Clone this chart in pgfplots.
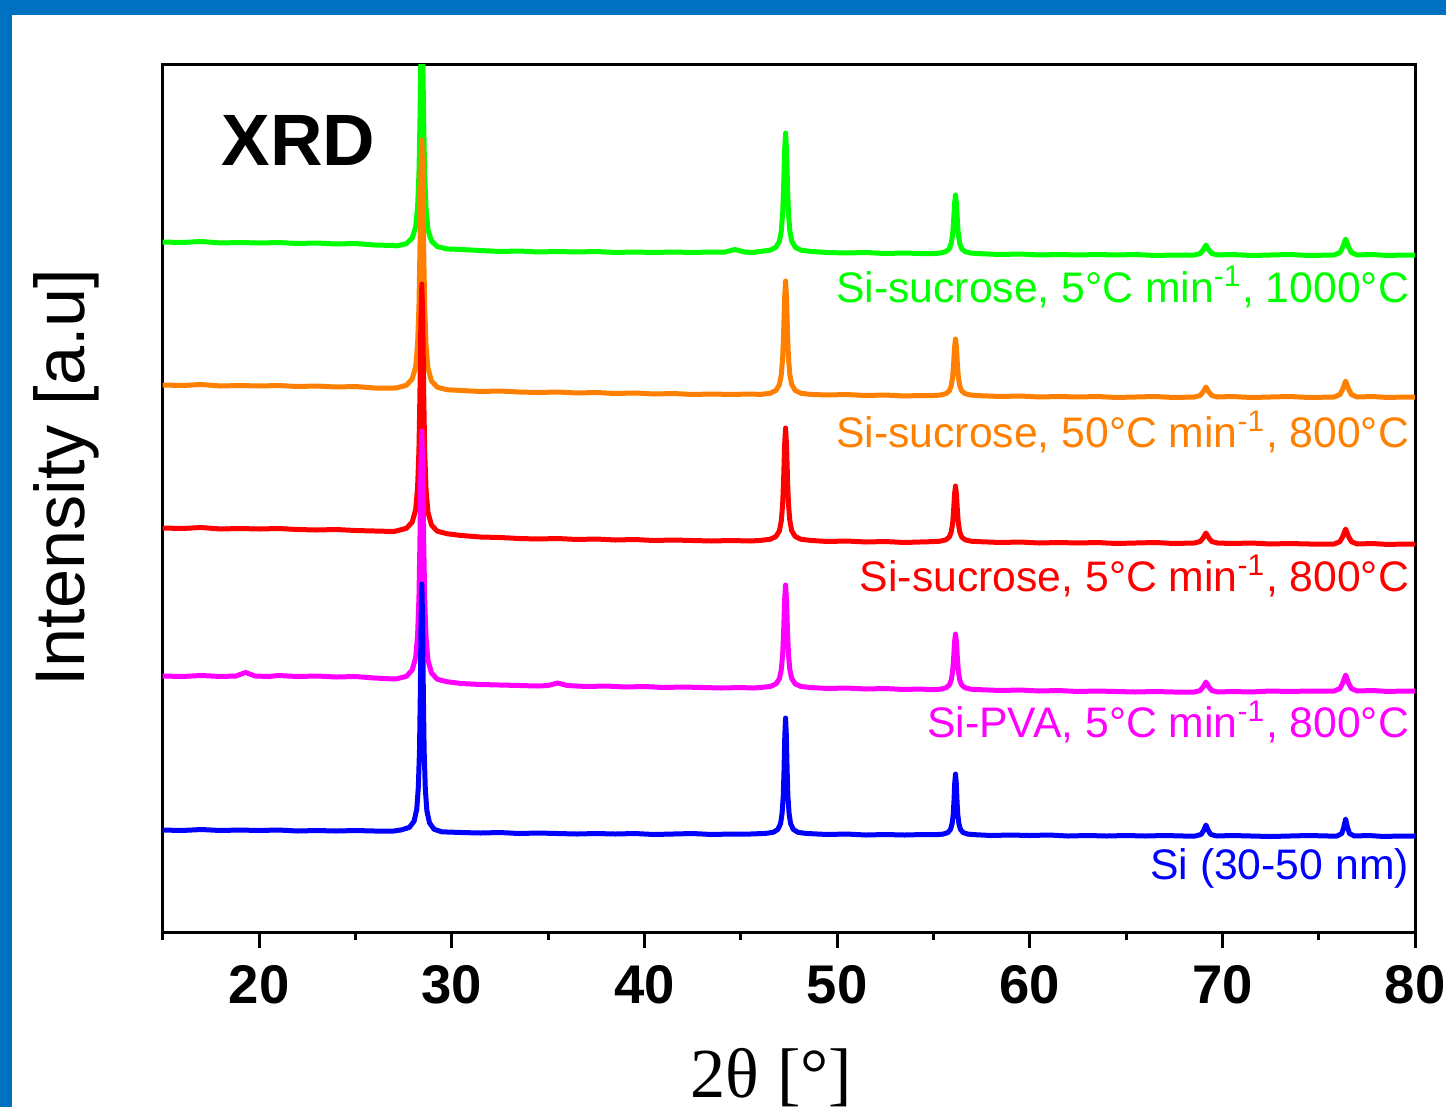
\documentclass[border=0pt]{standalone}
\usepackage{fontspec}
\setmainfont{Liberation Sans}
\newfontfamily\serifaxis{Liberation Serif}
\usepackage{pgfplots}
\usepackage{pgfplotstable}
\pgfplotsset{compat=1.18}

\definecolor{framecol}{RGB}{0,112,192}
\definecolor{cGreen}{RGB}{0,255,0}
\definecolor{cOrange}{RGB}{255,128,0}
\definecolor{cRed}{RGB}{255,0,0}
\definecolor{cMagenta}{RGB}{255,0,255}
\definecolor{cBlue}{RGB}{0,0,255}

% Stacked diffractograms, intensity in offset display units
% Si-sucrose, 5 C/min, 1000 C
\pgfplotstableread[row sep=\\]{x y\\
15 690\\ 16 689.5\\ 17 690.5\\ 18 689\\ 19 689.5\\ 20 689\\ 21 689.5\\ 22 688.5\\ 23 689\\ 24 688\\ 25 688.5\\ 26 687\\ 27 686.5\\
27.15 686.1\\ 27.65 688.3\\ 27.95 693.9\\ 28.13 705\\ 28.23 725\\ 28.30 758\\ 28.35 807\\ 28.40 874\\ 28.45 907\\ 28.50 873\\ 28.55 806\\ 28.60 756\\ 28.67 722.5\\ 28.77 702\\ 28.95 691\\ 29.25 685.4\\ 29.75 683.1\\
30.5 682.5\\ 31.5 681.5\\ 32.5 680.5\\ 33.5 681\\ 34.5 680\\ 35.5 680.5\\ 36.5 680\\ 37.5 680.5\\ 38.5 679.5\\ 39.5 680\\ 40.5 679.5\\ 41.5 680\\ 42.5 679.5\\ 43.5 680\\ 44.2 680\\ 44.7 682.5\\ 45.2 680\\ 45.6 679.5\\
46.03 680.6\\ 46.53 681.8\\ 46.83 684.8\\ 47.01 690.7\\ 47.11 701.4\\ 47.18 719.3\\ 47.23 745.5\\ 47.28 781.2\\ 47.33 799\\ 47.38 781.2\\ 47.43 745.5\\ 47.48 719.3\\ 47.55 701.4\\ 47.65 690.7\\ 47.83 684.8\\ 48.13 681.8\\ 48.63 680.6\\
49.5 679.5\\ 50.5 679\\ 51.5 679.5\\ 52.5 678.5\\ 53.5 679\\ 54.3 678.5\\
54.85 678.3\\ 55.35 678.9\\ 55.65 680.4\\ 55.83 683.3\\ 55.93 688.6\\ 56.00 697.5\\ 56.05 710.5\\ 56.10 728.2\\ 56.15 737\\ 56.20 728.2\\ 56.25 710.5\\ 56.30 697.5\\ 56.37 688.6\\ 56.47 683.3\\ 56.65 680.4\\ 56.95 678.9\\ 57.45 678.3\\
58.5 677.5\\ 59.5 678\\ 60.5 677\\ 61.5 677.5\\ 62.5 677\\ 63.5 677.5\\ 64.5 677\\ 65.5 677.5\\ 66.5 676.5\\ 67.5 677\\
68.55 677\\ 68.85 678.5\\ 69.00 682\\ 69.15 687\\ 69.30 682\\ 69.45 678.5\\ 69.75 677\\
70.5 677.5\\ 71.5 676.5\\ 72.5 677\\ 73.5 677.5\\ 74.5 676.5\\
75.8 677\\ 76.1 679.4\\ 76.25 685\\ 76.4 693\\ 76.55 685\\ 76.7 679.4\\ 77.0 677\\
77.8 677.5\\ 78.6 676.5\\ 79.4 677\\ 80 677\\
}\tabGreen

% Si-sucrose, 50 C/min, 800 C
\pgfplotstableread[row sep=\\]{x y\\
15 547\\ 16 546.5\\ 17 547.5\\ 18 546\\ 19 546.5\\ 20 546\\ 21 546.5\\ 22 545.5\\ 23 546\\ 24 545\\ 25 545.5\\ 26 544\\ 27 544\\
27.15 544.2\\ 27.65 546.7\\ 27.95 553\\ 28.13 565.4\\ 28.23 587.8\\ 28.30 625.2\\ 28.35 680\\ 28.40 754.7\\ 28.45 792\\ 28.50 754.4\\ 28.55 679\\ 28.60 623.8\\ 28.67 586.2\\ 28.77 563.6\\ 28.95 551\\ 29.25 544.8\\ 29.75 542.3\\
30.5 541.5\\ 31.5 540.5\\ 32.5 541\\ 33.5 540\\ 34.5 539.5\\ 35.5 540\\ 36.5 539\\ 37.5 539.5\\ 38.5 538.5\\ 39.5 539\\ 40.5 538\\ 41.5 538.5\\ 42.5 537.5\\ 43.5 538\\ 44.5 537.5\\ 45.5 538\\
46.03 537.6\\ 46.53 538.7\\ 46.83 541.6\\ 47.01 547.3\\ 47.11 557.5\\ 47.18 574.6\\ 47.23 599.7\\ 47.28 633.9\\ 47.33 651\\ 47.38 633.9\\ 47.43 599.7\\ 47.48 574.6\\ 47.55 557.5\\ 47.65 547.3\\ 47.83 541.6\\ 48.13 538.7\\ 48.63 537.6\\
49.5 537\\ 50.5 537.5\\ 51.5 536.5\\ 52.5 537\\ 53.5 536\\ 54.3 536.5\\
54.85 536.3\\ 55.35 536.9\\ 55.65 538.3\\ 55.83 541.1\\ 55.93 546.3\\ 56.00 554.8\\ 56.05 567.4\\ 56.10 584.5\\ 56.15 593\\ 56.20 584.5\\ 56.25 567.4\\ 56.30 554.8\\ 56.37 546.3\\ 56.47 541.1\\ 56.65 538.3\\ 56.95 536.9\\ 57.45 536.3\\
58.5 535.5\\ 59.5 536\\ 60.5 535\\ 61.5 535.5\\ 62.5 535\\ 63.5 535.5\\ 64.5 534.5\\ 65.5 535\\ 66.5 535.5\\ 67.5 534.5\\
68.55 535\\ 68.85 536.5\\ 69.00 540\\ 69.15 545\\ 69.30 540\\ 69.45 536.5\\ 69.75 535\\
70.5 535.5\\ 71.5 534.5\\ 72.5 535\\ 73.5 535.5\\ 74.5 534.5\\
75.8 535\\ 76.1 537.4\\ 76.25 543\\ 76.4 551\\ 76.55 543\\ 76.7 537.4\\ 77.0 535\\
77.8 535.5\\ 78.6 534.5\\ 79.4 535\\ 80 535\\
}\tabOrange

% Si-sucrose, 5 C/min, 800 C
\pgfplotstableread[row sep=\\]{x y\\
15 404\\ 16 403.5\\ 17 404.5\\ 18 403\\ 19 403.5\\ 20 403\\ 21 403.5\\ 22 402.5\\ 23 402\\ 24 402.5\\ 25 401.5\\ 26 401\\ 27 400.5\\
27.15 401.2\\ 27.65 403.7\\ 27.95 409.9\\ 28.13 422.3\\ 28.23 444.6\\ 28.30 481.8\\ 28.35 536.4\\ 28.40 610.8\\ 28.45 648\\ 28.50 610.4\\ 28.55 535\\ 28.60 479.8\\ 28.67 442.2\\ 28.77 419.6\\ 28.95 407\\ 29.25 400.8\\ 29.75 398.3\\
30.5 396.5\\ 31.5 395\\ 32.5 394.5\\ 33.5 393.5\\ 34.5 393\\ 35.5 393.5\\ 36.5 392.5\\ 37.5 393\\ 38.5 392\\ 39.5 392.5\\ 40.5 391.5\\ 41.5 392\\ 42.5 391.5\\ 43.5 391\\ 44.5 391.5\\ 45.5 391\\
46.03 391.6\\ 46.53 392.7\\ 46.83 395.5\\ 47.01 401.2\\ 47.11 411.3\\ 47.18 428.3\\ 47.23 453.2\\ 47.28 487\\ 47.33 504\\ 47.38 487\\ 47.43 453.2\\ 47.48 428.3\\ 47.55 411.3\\ 47.65 401.2\\ 47.83 395.5\\ 48.13 392.7\\ 48.63 391.6\\
49.5 390.5\\ 50.5 391\\ 51.5 390\\ 52.5 390.5\\ 53.5 389.5\\ 54.3 390\\
54.85 390.3\\ 55.35 390.8\\ 55.65 392.2\\ 55.83 395\\ 55.93 400.1\\ 56.00 408.5\\ 56.05 420.8\\ 56.10 437.6\\ 56.15 446\\ 56.20 437.6\\ 56.25 420.8\\ 56.30 408.5\\ 56.37 400.1\\ 56.47 395\\ 56.65 392.2\\ 56.95 390.8\\ 57.45 390.3\\
58.5 389.5\\ 59.5 390\\ 60.5 389\\ 61.5 389.5\\ 62.5 389\\ 63.5 389.5\\ 64.5 388.5\\ 65.5 389\\ 66.5 389.5\\ 67.5 388.5\\
68.55 389\\ 68.85 390.5\\ 69.00 394\\ 69.15 399\\ 69.30 394\\ 69.45 390.5\\ 69.75 389\\
70.5 388.5\\ 71.5 389\\ 72.5 388\\ 73.5 388.5\\ 74.5 388\\
75.8 388\\ 76.1 390.3\\ 76.25 395.5\\ 76.4 403\\ 76.55 395.5\\ 76.7 390.3\\ 77.0 388\\
77.8 388.5\\ 78.6 387.5\\ 79.4 388\\ 80 388\\
}\tabRed

% Si-PVA, 5 C/min, 800 C
\pgfplotstableread[row sep=\\]{x y\\
15 256\\ 16 255.5\\ 17 256.5\\ 18 255.5\\ 18.8 256\\ 19.3 259.5\\ 19.8 256\\ 20.5 255.5\\ 21 256.5\\ 22 255.5\\ 23 256\\ 24 255\\ 25 255.5\\ 26 254\\ 27 253\\
27.15 253.2\\ 27.65 255.7\\ 27.95 262\\ 28.13 274.4\\ 28.23 296.8\\ 28.30 334.2\\ 28.35 389\\ 28.40 463.7\\ 28.45 501\\ 28.50 463.2\\ 28.55 387.6\\ 28.60 332.2\\ 28.67 294.4\\ 28.77 271.7\\ 28.95 259.1\\ 29.25 252.8\\ 29.75 250.3\\
30.5 248.5\\ 31.5 247.5\\ 32.5 247\\ 33.5 246.5\\ 34.5 246\\ 35.0 246.5\\ 35.5 249\\ 36.0 246.5\\ 37 245.5\\ 38 246\\ 39 245\\ 40 245.5\\ 41 244.5\\ 42 245\\ 43 244.5\\ 44 244\\ 45 244.5\\ 45.6 244\\
46.03 244.5\\ 46.53 245.5\\ 46.83 248.1\\ 47.01 253.3\\ 47.11 262.5\\ 47.18 278\\ 47.23 300.7\\ 47.28 331.6\\ 47.33 347\\ 47.38 331.6\\ 47.43 300.7\\ 47.48 278\\ 47.55 262.5\\ 47.65 253.3\\ 47.83 248.1\\ 48.13 245.5\\ 48.63 244.5\\
49.5 243.5\\ 50.5 244\\ 51.5 243\\ 52.5 243.5\\ 53.5 242.5\\ 54.3 243\\
54.85 242.3\\ 55.35 242.8\\ 55.65 244.2\\ 55.83 247\\ 55.93 252.1\\ 56.00 260.5\\ 56.05 272.8\\ 56.10 289.6\\ 56.15 298\\ 56.20 289.6\\ 56.25 272.8\\ 56.30 260.5\\ 56.37 252.1\\ 56.47 247\\ 56.65 244.2\\ 56.95 242.8\\ 57.45 242.3\\
58.5 241.5\\ 59.5 242\\ 60.5 241\\ 61.5 241.5\\ 62.5 240.5\\ 63.5 241\\ 64.5 240.5\\ 65.5 240\\ 66.5 240.5\\ 67.5 240\\
68.55 240\\ 68.85 241.5\\ 69.00 245\\ 69.15 250\\ 69.30 245\\ 69.45 241.5\\ 69.75 240\\
70.5 240.5\\ 71.5 240\\ 72.5 241\\ 73.5 240.5\\ 74.5 241\\
75.8 241\\ 76.1 243.4\\ 76.25 249\\ 76.4 257\\ 76.55 249\\ 76.7 243.4\\ 77.0 241\\
77.8 241.5\\ 78.6 240.5\\ 79.4 241\\ 80 241\\
}\tabMagenta

% Si (30-50 nm)
\pgfplotstableread[row sep=\\]{x y\\
15 102\\ 16 101.5\\ 17 102.5\\ 18 101.5\\ 19 102\\ 20 101.5\\ 21 102\\ 22 101\\ 23 101.5\\ 24 101\\ 25 101.5\\ 26 101\\ 27 101\\
27.41 102.2\\ 27.81 104.7\\ 28.05 110.9\\ 28.19 123.2\\ 28.27 145.5\\ 28.33 182.5\\ 28.37 236.9\\ 28.41 311\\ 28.45 348\\ 28.49 310.7\\ 28.53 236\\ 28.57 181.2\\ 28.63 143.8\\ 28.71 121.4\\ 28.85 109\\ 29.09 102.7\\ 29.49 100.2\\
30.5 99.5\\ 31.5 99\\ 32.5 99.5\\ 33.5 98.5\\ 34.5 99\\ 35.5 98.5\\ 36.5 98\\ 37.5 98.5\\ 38.5 98\\ 39.5 98.5\\ 40.5 97.5\\ 41.5 98\\ 42.5 98.5\\ 43.5 97.5\\ 44.5 98\\ 45.5 98\\
46.29 98.6\\ 46.69 99.7\\ 46.93 102.6\\ 47.07 108.4\\ 47.15 118.9\\ 47.21 136.3\\ 47.25 161.8\\ 47.29 196.6\\ 47.33 214\\ 47.37 196.6\\ 47.41 161.8\\ 47.45 136.3\\ 47.51 118.9\\ 47.59 108.4\\ 47.73 102.6\\ 47.97 99.7\\ 48.37 98.6\\
49.5 97.5\\ 50.5 98\\ 51.5 97\\ 52.5 97.5\\ 53.5 97\\ 54.5 97.5\\
55.11 97.3\\ 55.51 97.9\\ 55.75 99.4\\ 55.89 102.5\\ 55.97 108\\ 56.03 117.1\\ 56.07 130.6\\ 56.11 148.9\\ 56.15 158\\ 56.19 148.9\\ 56.23 130.6\\ 56.27 117.1\\ 56.33 108\\ 56.41 102.5\\ 56.55 99.4\\ 56.79 97.9\\ 57.19 97.3\\
58 96.5\\ 59 97\\ 60 96.5\\ 61 97\\ 62 96\\ 63 96.5\\ 64 96\\ 65 96.5\\ 66 96\\ 67 96.5\\ 68 96\\
68.6 96\\ 68.9 97.6\\ 69.03 101.5\\ 69.15 107\\ 69.27 101.5\\ 69.4 97.6\\ 69.7 96\\
70.5 96.5\\ 71.5 96\\ 72.5 95.5\\ 73.5 96\\ 74.5 96.5\\ 75.5 96\\
75.95 96\\ 76.2 98.5\\ 76.3 104.5\\ 76.4 113\\ 76.5 104.5\\ 76.6 98.5\\ 76.85 96\\
77.6 96.5\\ 78.4 95.5\\ 79.2 96\\ 80 96\\
}\tabBlue

\begin{document}
\begin{tikzpicture}
\useasboundingbox (0,0) rectangle (144.6mm,110.7mm);
% blue frame strips along the top and left edge
\fill[framecol] (0,109.2mm) rectangle (144.6mm,110.7mm);
\fill[framecol] (0,0) rectangle (1.2mm,110.7mm);
\begin{axis}[
  at={(16.27mm,17.5mm)}, anchor=south west,
  scale only axis, width=125.23mm, height=86.7mm,
  xmin=15, xmax=80, ymin=0, ymax=867,
  axis line style={line width=0.3mm},
  xtick={20,30,...,80}, minor xtick={15,25,...,75}, ytick=\empty,
  xtick pos=bottom, tick align=outside,
  major tick length=1.6mm, minor tick length=0.8mm,
  every tick/.style={black, line width=0.3mm},
  /pgf/number format/assume math mode=true,
  xticklabel style={font=\fontsize{15.5}{18}\selectfont\bfseries, yshift=-0.5mm},
  xlabel={\serifaxis 2θ [°]},
  every axis x label/.style={at={(rel axis cs:0.486,0)}, yshift=-16.5mm, anchor=base, inner sep=0pt, font=\fontsize{20}{24}\selectfont},
  ylabel={Intensity [a.u]},
  every axis y label/.style={at={(rel axis cs:-0.05,0.524)}, rotate=90, anchor=south, inner sep=0pt, font=\fontsize{20}{24}\selectfont},
  every axis plot/.append style={line width=0.5mm, line join=round},
]
\addplot[cGreen] table {\tabGreen};
\addplot[cOrange] table {\tabOrange};
\addplot[cRed] table {\tabRed};
\addplot[cMagenta] table {\tabMagenta};
\addplot[cBlue] table {\tabBlue};

\node[anchor=base west, inner sep=0pt, font=\fontsize{20.7}{24}\selectfont\bfseries] at (axis cs:18.03,766) {XRD};

\begin{scope}[every node/.style={anchor=base east, inner sep=0pt, font=\fontsize{12.15}{15}\selectfont}]
\node[text=cGreen] at (axis cs:79.72,630) {Si-sucrose, 5°C min\textsuperscript{-1}, 1000°C};
\node[text=cOrange] at (axis cs:79.72,485) {Si-sucrose, 50°C min\textsuperscript{-1}, 800°C};
\node[text=cRed] at (axis cs:79.72,341) {Si-sucrose, 5°C min\textsuperscript{-1}, 800°C};
\node[text=cMagenta] at (axis cs:79.72,195) {Si-PVA, 5°C min\textsuperscript{-1}, 800°C};
\node[text=cBlue] at (axis cs:79.72,53) {Si (30-50 nm)};
\end{scope}
\end{axis}
\end{tikzpicture}
\end{document}
